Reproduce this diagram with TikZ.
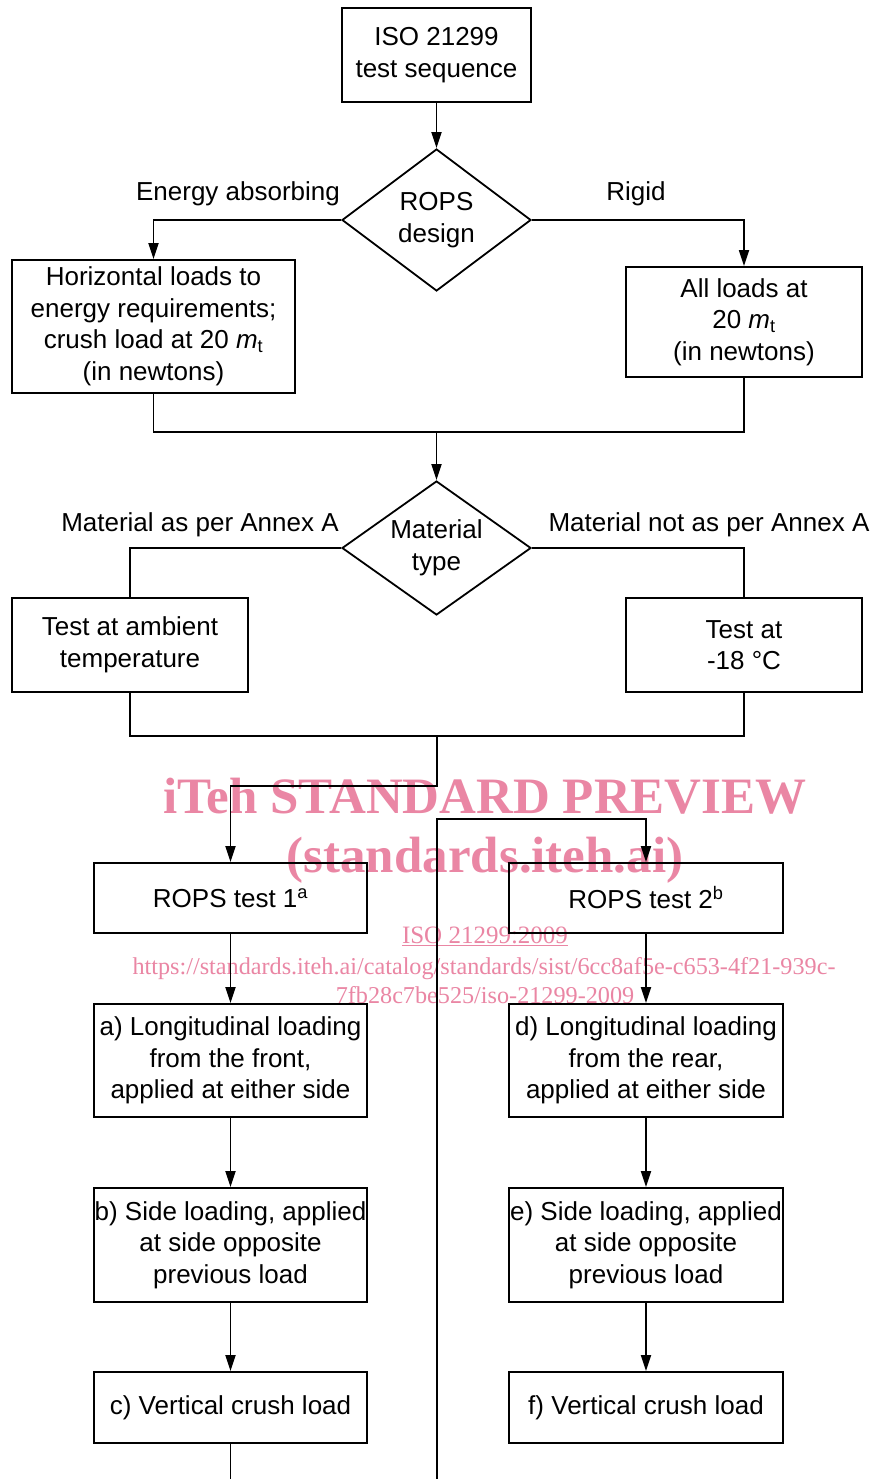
\documentclass[tikz,border=0pt]{standalone}
\usepackage{fontspec}
\setmainfont{Liberation Sans}
\newfontfamily\wmfont{Liberation Serif}
\usetikzlibrary{arrows.meta,shapes.geometric}
\definecolor{wmpink}{RGB}{234,134,164}
\tikzset{
  every picture/.style={x=1pt,y=-1pt},
  box/.style={draw,line width=1.8pt,rectangle,align=center,inner sep=0pt,
              font=\fontsize{26}{31.5}\selectfont},
  dia/.style={draw,line width=1.8pt,diamond,align=center,inner sep=0pt,
              font=\fontsize{26}{31.5}\selectfont},
  lbl/.style={font=\fontsize{26}{31.5}\selectfont,inner sep=0pt},
  ln/.style={line width=1.8pt},
  arr/.style={line width=1.8pt,-{Triangle[length=16pt,width=10pt]}},
  wm/.style={text=wmpink,inner sep=0pt,anchor=base}
}
\begin{document}
\begin{tikzpicture}
\useasboundingbox (0,0) rectangle (874,1479);
\fill[white] (0,0) rectangle (874,1479);

% watermark
\node[wm,font=\wmfont\bfseries\fontsize{51}{55}\selectfont] (w1) at (485,813) {iTeh STANDARD PREVIEW};
\node[wm,font=\wmfont\bfseries\fontsize{51}{55}\selectfont] (w2) at (485,872) {(standards.iteh.ai)};
\node[wm,font=\wmfont\fontsize{25}{28}\selectfont] (w3) at (485,943) {\underline{ISO 21299:2009}};
\node[wm,font=\wmfont\fontsize{24.2}{28}\selectfont] (w4) at (484,974) {https://standards.iteh.ai/catalog/standards/sist/6cc8af5e-c653-4f21-939c-};
\node[wm,font=\wmfont\fontsize{24.2}{28}\selectfont] (w5) at (485,1003) {7fb28c7be525/iso-21299-2009};

% nodes
\node[box,minimum width=189pt,minimum height=94pt] (top) at (436.5,55) {ISO 21299\\test sequence};
\node[dia,shape aspect=1.33,minimum width=189pt,minimum height=142pt] (d1) at (436.5,220) {ROPS\\design};
\node[lbl] (l1) at (238,194) {Energy absorbing};
\node[lbl] (l2) at (636,194) {Rigid};
\node[box,minimum width=283pt,minimum height=133pt] (hl) at (153.5,326.5)
  {Horizontal loads to\\energy requirements;\\crush load at 20 \textit{m}\textsubscript{t}\\(in newtons)};
\node[box,minimum width=236pt,minimum height=110pt] (al) at (744,322)
  {All loads at\\20 \textit{m}\textsubscript{t}\\(in newtons)};
\coordinate (m1) at (436.5,432);
\node[dia,shape aspect=1.41,minimum width=189pt,minimum height=134pt] (d2) at (436.5,548) {Material\\type};
\node[lbl] (l3) at (200,525) {Material as per Annex A};
\node[lbl] (l4) at (709,525) {Material not as per Annex A};
\node[box,minimum width=236pt,minimum height=94pt] (ta) at (130,645) {Test at ambient\\temperature};
\node[box,minimum width=236pt,minimum height=94pt] (tb) at (744,645) {Test at\\-18 °C};
\coordinate (m2) at (437,736);
\coordinate (j1) at (437,786);
\coordinate (j2) at (437,819);
\coordinate (bt) at (437,1479);

\node[box,minimum width=273pt,minimum height=70pt] (r1) at (230.5,898) {ROPS test 1\textsuperscript{a}};
\node[box,minimum width=274pt,minimum height=70pt] (r2) at (646,898) {ROPS test 2\textsuperscript{b}};
\node[box,minimum width=273pt,minimum height=113pt] (a) at (230.5,1060.5)
  {a) Longitudinal loading\\from the front,\\applied at either side};
\node[box,minimum width=274pt,minimum height=113pt] (d) at (646,1060.5)
  {d) Longitudinal loading\\from the rear,\\applied at either side};
\node[box,minimum width=273pt,minimum height=114pt] (b) at (230.5,1245)
  {b) Side loading, applied\\at side opposite\\previous load};
\node[box,minimum width=274pt,minimum height=114pt] (e) at (646,1245)
  {e) Side loading, applied\\at side opposite\\previous load};
\node[box,minimum width=273pt,minimum height=71pt] (c) at (230.5,1407.5) {c) Vertical crush load};
\node[box,minimum width=274pt,minimum height=71pt] (f) at (646,1407.5) {f) Vertical crush load};
\coordinate (cb) at (230.5,1479);

% connectors
\draw[arr] (top.south) -- (d1.north);
\draw[arr] (d1.west) -| (hl.north);
\draw[arr] (d1.east) -| (al.north);
\draw[ln] (hl.south) |- (m1) -| (al.south);
\draw[arr] (m1) -- (d2.north);
\draw[ln] (d2.west) -| (ta.north);
\draw[ln] (d2.east) -| (tb.north);
\draw[ln] (ta.south) |- (m2) -| (tb.south);
\draw[arr] (m2) -- (j1) -| (r1.north);
\draw[arr] (bt) -- (j2) -| (r2.north);
\draw[arr] (r1) -- (a);
\draw[arr] (a) -- (b);
\draw[arr] (b) -- (c);
\draw[arr] (r2) -- (d);
\draw[arr] (d) -- (e);
\draw[arr] (e) -- (f);
\draw[ln] (c.south) -- (cb);
\end{tikzpicture}
\end{document}
